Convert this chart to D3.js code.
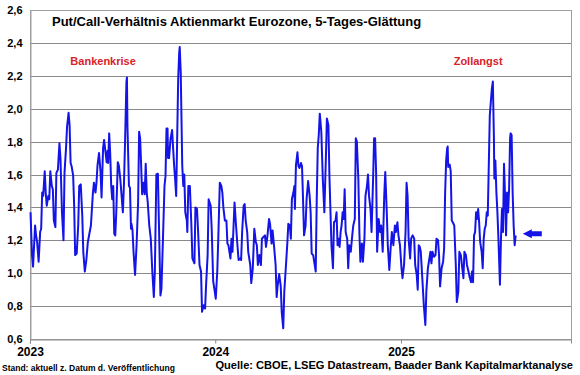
<!DOCTYPE html>
<html>
<head>
<meta charset="utf-8">
<script src="https://cdn.jsdelivr.net/npm/d3@7"></script>
<style>
  body { margin: 0; background: #fff; }
  svg text { font-family: "Liberation Sans", Arial, sans-serif; font-weight: bold; }
</style>
</head>
<body>
<svg id="chart"></svg>
<script>
// Put/Call ratio, 5-day smoothing: [month-day, value]
const pc2023 = [
  ["01-02",1.37],["01-05",1.11],["01-07",1.04],["01-11",1.29],["01-13",1.23],["01-15",1.19],["01-18",1.07],
  ["01-21",1.25],["01-23",1.27],["01-25",1.49],["01-27",1.47],["01-30",1.62],["02-01",1.49],["02-03",1.41],
  ["02-06",1.47],["02-08",1.45],["02-10",1.62],["02-13",1.53],["02-15",1.51],["02-17",1.32],["02-20",1.28],
  ["02-22",1.61],["02-25",1.63],["02-28",1.79],["03-02",1.70],["03-05",1.37],["03-08",1.20],["03-10",1.61],
  ["03-13",1.76],["03-15",1.89],["03-18",1.975],["03-20",1.90],["03-22",1.67],["03-24",1.65],["03-27",1.595],
  ["03-29",1.41],["03-31",1.11],["04-03",1.12],["04-06",1.29],["04-08",1.53],["04-11",1.54],["04-14",1.35],
  ["04-16",1.13],["04-19",1.01],["04-22",1.08],["04-25",1.19],["04-28",1.24],["05-01",1.29],["05-05",1.49],
  ["05-07",1.55],["05-10",1.49],["05-12",1.55],["05-14",1.655],["05-17",1.73],["05-20",1.615],["05-22",1.46],
  ["05-25",1.76],["05-27",1.81],["05-30",1.73],["06-01",1.675],["06-03",1.745],["06-04",1.67],["06-06",1.85],
  ["06-08",1.73],["06-10",1.53],["06-12",1.45],["06-14",1.53],["06-16",1.24],["06-18",1.23],["06-20",1.37],
  ["06-23",1.675],["06-25",1.655],["06-28",1.57],["07-01",1.45],["07-03",1.37],["07-05",1.53],["07-07",1.76],
  ["07-10",2.16],["07-11",2.19],["07-12",1.90],["07-15",1.53],["07-17",1.52],["07-19",1.27],["07-20",1.30],
  ["07-22",1.26],["07-24",1.13],["07-27",0.99],["07-30",1.17],["08-02",1.43],["08-04",1.86],["08-06",1.82],
  ["08-08",1.655],["08-10",1.48],["08-13",1.55],["08-15",1.48],["08-17",1.665],["08-19",1.49],["08-21",1.43],
  ["08-24",1.29],["08-27",1.21],["08-30",1.01],["09-02",0.855],["09-04",1.01],["09-07",1.60],["09-10",1.605],
  ["09-12",1.31],["09-15",0.865],["09-17",0.905],["09-20",1.21],["09-23",1.53],["09-25",1.59],["09-27",1.88],
  ["09-29",1.88],["09-30",1.70],["10-02",1.70],["10-05",1.82],["10-08",1.87],["10-10",1.76],["10-12",1.655],
  ["10-14",1.57],["10-16",1.47],["10-18",1.82],["10-20",2.18],["10-22",2.34],["10-23",2.375],["10-25",2.22],
  ["10-28",1.655],["10-30",1.53],["11-01",1.60],["11-03",1.37],["11-06",1.32],["11-07",1.25],["11-09",1.53],
  ["11-12",1.53],["11-15",1.29],["11-17",1.09],["11-21",1.06],["11-23",1.40],["11-26",1.39],["11-28",1.27],
  ["12-01",1.05],["12-04",1.01],["12-06",0.765],["12-09",0.805],["12-12",0.785],["12-14",0.93],["12-17",1.11],
  ["12-19",1.45],["12-23",1.41],["12-25",1.27],["12-28",0.95],["12-31",0.89]
];
const pc2024 = [
  ["01-02",0.845],["01-05",1.01],["01-07",1.21],["01-10",1.55],["01-13",1.53],["01-15",1.49],["01-17",1.40],
  ["01-20",1.32],["01-23",1.32],["01-25",1.18],["01-27",1.17],["01-31",1.09],["02-02",1.21],["02-04",1.13],
  ["02-08",1.43],["02-11",1.29],["02-13",1.20],["02-16",1.08],["02-19",1.09],["02-21",1.08],["02-23",1.25],
  ["02-26",1.41],["02-28",1.42],["03-01",1.32],["03-04",1.25],["03-06",1.13],["03-10",1.05],["03-12",0.94],
  ["03-15",1.03],["03-18",1.27],["03-21",1.19],["03-23",1.17],["03-25",1.05],["03-28",1.11],["03-31",1.05],
  ["04-02",1.21],["04-05",1.22],["04-08",1.23],["04-10",1.16],["04-13",1.23],["04-16",1.33],["04-18",1.30],
  ["04-21",1.18],["04-23",1.26],["04-26",1.16],["04-29",1.05],["05-01",0.855],["05-03",0.925],["05-06",0.995],
  ["05-09",0.925],["05-11",0.765],["05-14",0.665],["05-16",0.885],["05-19",1.03],["05-22",1.18],["05-24",1.30],
  ["05-27",1.29],["05-29",1.21],["05-31",1.45],["06-03",1.49],["06-05",1.53],["06-06",1.39],["06-08",1.655],
  ["06-11",1.735],["06-13",1.65],["06-15",1.64],["06-18",1.67],["06-20",1.65],["06-22",1.45],["06-24",1.23],
  ["06-27",1.29],["06-29",1.45],["07-02",1.56],["07-05",1.47],["07-07",1.37],["07-09",1.12],["07-12",1.11],
  ["07-14",1.07],["07-17",1.01],["07-19",1.45],["07-21",1.76],["07-23",1.84],["07-25",1.97],["07-28",1.86],
  ["07-31",1.57],["08-03",1.37],["08-06",1.70],["08-08",1.94],["08-11",1.90],["08-13",1.59],["08-17",1.17],
  ["08-20",1.03],["08-22",1.31],["08-25",1.32],["08-27",1.37],["08-29",1.17],["08-31",1.21],["09-02",1.16],
  ["09-04",1.25],["09-06",1.29],["09-08",1.37],["09-10",1.33],["09-12",1.51],["09-14",1.25],["09-17",1.21],
  ["09-19",1.03],["09-21",1.17],["09-24",1.13],["09-27",1.23],["09-29",1.29],["10-02",1.33],["10-04",1.82],
  ["10-06",1.80],["10-09",1.57],["10-11",1.25],["10-13",1.07],["10-16",1.18],["10-18",1.07],["10-21",1.21],
  ["10-23",1.47],["10-26",1.53],["10-28",1.60],["10-30",1.47],["11-02",1.39],["11-04",1.25],["11-07",1.57],
  ["11-09",1.82],["11-11",1.82],["11-13",1.61],["11-15",1.13],["11-18",1.33],["11-21",1.25],["11-23",1.29],
  ["11-26",1.13],["11-29",1.47],["12-01",1.615],["12-04",1.37],["12-06",1.17],["12-09",1.02],["12-12",1.17],
  ["12-14",1.25],["12-17",1.17],["12-20",1.29],["12-22",1.25],["12-25",1.31],["12-27",1.23],["12-30",1.17]
];
const pc2025 = [
  ["01-02",1.03],["01-04",0.97],["01-07",1.05],["01-10",1.25],["01-12",1.55],["01-14",1.47],["01-16",1.21],
  ["01-19",1.09],["01-21",1.21],["01-24",1.23],["01-27",1.21],["01-29",1.05],["02-01",0.99],["02-03",0.90],
  ["02-05",1.17],["02-07",1.16],["02-09",1.13],["02-12",0.97],["02-15",0.805],["02-18",0.685],["02-20",0.89],
  ["02-23",1.03],["02-26",1.09],["02-28",1.13],["03-02",1.06],["03-04",1.13],["03-07",1.10],["03-10",1.11],
  ["03-12",1.21],["03-15",1.20],["03-17",1.11],["03-19",0.92],["03-22",1.03],["03-25",1.07],["03-27",1.15],
  ["03-29",1.49],["03-31",1.685],["04-02",1.76],["04-03",1.77],["04-04",1.645],["04-07",1.66],["04-09",1.62],
  ["04-11",1.32],["04-13",1.31],["04-16",1.29],["04-19",1.05],["04-21",0.825],["04-24",0.89],["04-26",1.13],
  ["04-29",1.11],["05-01",1.05],["05-04",0.97],["05-06",1.13],["05-09",1.11],["05-11",1.05],["05-14",1.01],
  ["05-16",0.98],["05-19",0.945],["05-21",1.01],["05-23",0.945],["05-25",1.23],["05-27",1.25],["05-29",1.37],
  ["05-31",1.33],["06-02",1.39],["06-04",1.31],["06-06",1.19],["06-09",1.13],["06-11",1.03],["06-13",1.21],
  ["06-15",1.27],["06-17",1.29],["06-19",1.37],["06-21",1.35],["06-23",1.655],["06-25",1.96],["06-27",2.04],
  ["06-29",2.12],["07-01",2.165],["07-03",1.84],["07-04",1.575],["07-06",1.685],["07-08",1.49],["07-10",1.37],
  ["07-12",1.21],["07-15",0.93],["07-17",1.21],["07-19",1.39],["07-21",1.25],["07-23",1.665],["07-25",1.47],
  ["07-27",1.23],["07-29",1.49],["07-31",1.37],["08-02",1.51],["08-04",1.82],["08-05",1.85],["08-07",1.84],
  ["08-09",1.49],["08-11",1.29],["08-13",1.17],["08-15",1.23]
];

const yTicks = [0.6, 0.8, 1.0, 1.2, 1.4, 1.6, 1.8, 2.0, 2.2, 2.4, 2.6];
const xTickDates = ["2023-01-01", "2024-01-01", "2025-01-01"];
const xDomain = ["2023-01-01", "2025-12-02"];

const title = "Put/Call-Verhältnis Aktienmarkt Eurozone, 5-Tages-Glättung";
const notes = [
  { text: "Bankenkrise", date: "2023-05-25", value: 2.265 },
  { text: "Zollangst", date: "2025-06-02", value: 2.265 }
];
const arrowAt = { date: "2025-08-29", value: 1.24 };
const footLeft = "Stand: aktuell z. Datum d. Veröffentlichung";
const footRight = "Quelle: CBOE, LSEG Datastream, Baader Bank Kapitalmarktanalyse";

const parse = d3.timeParse("%Y-%m-%d");
const data = [
  ...pc2023.map(d => ({ date: parse("2023-" + d[0]), v: d[1] })),
  ...pc2024.map(d => ({ date: parse("2024-" + d[0]), v: d[1] })),
  ...pc2025.map(d => ({ date: parse("2025-" + d[0]), v: d[1] }))
];

const svg_width = 580, svg_height = 375;
const plot = { left: 30, right: 571, top: 10, bottom: 339 };
const blue = "#1414e6", red = "#d8232a", grid = "#8a8a8a";

const svg = d3.select("#chart").attr("width", svg_width).attr("height", svg_height);

const x = d3.scaleTime().domain(xDomain.map(parse)).range([plot.left, plot.right]);
const y = d3.scaleLinear().domain([0.6, 2.6]).range([plot.bottom, plot.top]);
const fmt = v => d3.format(".1f")(v).replace(".", ",");

// plot background + frame
svg.append("rect")
  .attr("x", plot.left + 0.5).attr("y", plot.top + 0.5)
  .attr("width", plot.right - plot.left).attr("height", plot.bottom - plot.top)
  .attr("fill", "#fff").attr("stroke", "#a0a0a0").attr("stroke-width", 1);

// gridlines
svg.append("g").selectAll("line")
  .data(yTicks.slice(1, -1))
  .join("line")
  .attr("x1", plot.left).attr("x2", plot.right)
  .attr("y1", d => Math.round(y(d)) + 0.5).attr("y2", d => Math.round(y(d)) + 0.5)
  .attr("stroke", grid).attr("stroke-width", 1);

// y axis
const yAxis = svg.append("g")
  .attr("transform", `translate(${plot.left + 0.5},0)`)
  .call(d3.axisLeft(y).tickValues(yTicks).tickFormat(fmt).tickSize(0).tickPadding(8));
yAxis.select(".domain").attr("stroke", "#a0a0a0");
yAxis.selectAll("text").attr("font-size", 11).attr("fill", "#000")
  .attr("font-family", "Liberation Sans, Arial, sans-serif").attr("font-weight", "bold");

// x axis
const xAxis = svg.append("g")
  .attr("transform", `translate(0,${plot.bottom + 0.5})`)
  .call(d3.axisBottom(x).tickValues(xTickDates.map(parse)).tickFormat(d3.timeFormat("%Y")).tickSize(4).tickPadding(4));
xAxis.select(".domain").attr("stroke", "#8a8a8a");
xAxis.selectAll(".tick line").attr("stroke", "#8a8a8a");
xAxis.selectAll("text").attr("font-size", 12).attr("fill", "#000")
  .attr("font-family", "Liberation Sans, Arial, sans-serif").attr("font-weight", "bold");

// series
const line = d3.line().x(d => x(d.date)).y(d => y(d.v));
svg.append("path")
  .datum(data)
  .attr("fill", "none")
  .attr("stroke", blue)
  .attr("stroke-width", 2)
  .attr("stroke-linejoin", "round")
  .attr("d", line);

// arrow pointing at latest value
const ax = x(parse(arrowAt.date)), ay = y(arrowAt.value);
svg.append("path")
  .attr("d", `M${ax},${ay} L${ax + 9},${ay - 4.5} L${ax + 9},${ay - 2.5} L${ax + 19},${ay - 2.5}
              L${ax + 19},${ay + 2.5} L${ax + 9},${ay + 2.5} L${ax + 9},${ay + 4.5} Z`)
  .attr("fill", blue);

// title
svg.append("text")
  .attr("x", 52).attr("y", 26)
  .attr("font-size", 13)
  .text(title);

// event labels
svg.append("g").selectAll("text")
  .data(notes)
  .join("text")
  .attr("x", d => x(parse(d.date)))
  .attr("y", d => y(d.value))
  .attr("text-anchor", "middle")
  .attr("font-size", 11)
  .attr("fill", red)
  .text(d => d.text);

// footer
svg.append("text")
  .attr("x", 2).attr("y", 371)
  .attr("font-size", 8.5)
  .text(footLeft);

svg.append("text")
  .attr("x", 573).attr("y", 369)
  .attr("text-anchor", "end")
  .attr("font-size", 11.1)
  .text(footRight);
</script>
</body>
</html>
